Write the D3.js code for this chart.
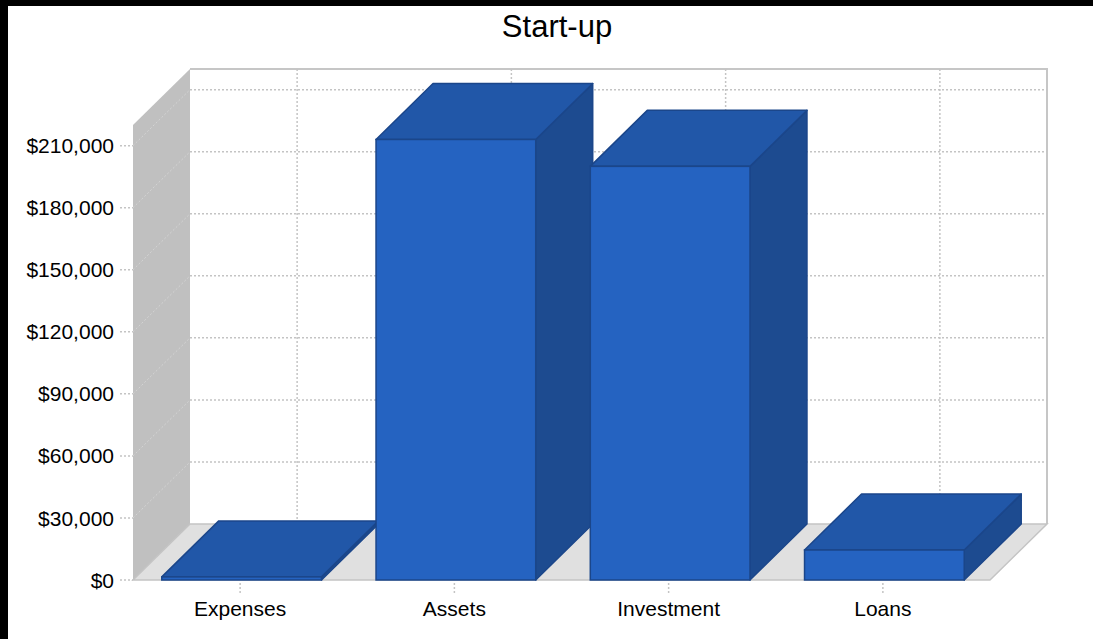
<!DOCTYPE html>
<html>
<head>
<meta charset="utf-8">
<script src="https://cdn.jsdelivr.net/npm/d3@7"></script>
<style>
  html, body { margin: 0; padding: 0; background: #fff; }
  svg { display: block; font-family: "Liberation Sans", Arial, sans-serif; }
</style>
</head>
<body>
<svg id="chart" width="1093" height="639"></svg>
<script>
// chart data
const categories = ["Expenses", "Assets", "Investment", "Loans"];
const values = [1500, 213000, 200000, 14500];
const tickValues = [0, 30000, 60000, 90000, 120000, 150000, 180000, 210000];
const yMax = 220000;

var svg = d3.select("#chart");
var W = 1093, H = 639;

// 3d depth offset
var dx = 57, dy = -56;

// front plane of the plot
var plotLeft = 133, plotRight = 990, plotBottom = 580, plotTop = 125;

var x = d3.scaleBand()
    .domain(categories)
    .range([plotLeft, plotRight])
    .paddingInner(0.25)
    .paddingOuter(0.125);

var y = d3.scaleLinear()
    .domain([0, yMax])
    .range([plotBottom, plotTop]);

// white page with black frame on top/left
svg.append("rect").attr("width", W).attr("height", H).attr("fill", "#fff");
svg.append("rect").attr("x", 0).attr("y", 0).attr("width", W).attr("height", 6).attr("fill", "#000");
svg.append("rect").attr("x", 0).attr("y", 0).attr("width", 8).attr("height", H).attr("fill", "#000");

// title
svg.append("text")
    .attr("x", 557).attr("y", 37)
    .attr("text-anchor", "middle")
    .style("font-size", "31px")
    .attr("fill", "#000")
    .text("Start-up");

function poly(pts) { return "M" + pts.map(function (p) { return p.join(","); }).join("L") + "Z"; }

var L = plotLeft, R = plotRight;

// back wall
svg.append("path")
    .attr("d", poly([[L + dx, y(0) + dy], [L + dx, y(yMax) + dy], [R + dx, y(yMax) + dy], [R + dx, y(0) + dy]]))
    .attr("fill", "#fff");
svg.append("path")
    .attr("d", "M" + (L + dx) + "," + (y(yMax) + dy) + "L" + (R + dx) + "," + (y(yMax) + dy) + "L" + (R + dx) + "," + (y(0) + dy))
    .attr("fill", "none")
    .attr("stroke", "#c6c6c6")
    .attr("stroke-width", 2);

// left wall
svg.append("path")
    .attr("d", poly([[L, y(0)], [L + dx, y(0) + dy], [L + dx, y(yMax) + dy], [L, y(yMax)]]))
    .attr("fill", "#c0c0c0");

// floor
svg.append("path")
    .attr("d", poly([[L, y(0)], [R, y(0)], [R + dx, y(0) + dy], [L + dx, y(0) + dy]]))
    .attr("fill", "#e0e0e0")
    .attr("stroke", "#c4c4c4")
    .attr("stroke-width", 1.5);

// horizontal grid on back wall + diagonal lines on left wall
var grid = svg.append("g");
tickValues.filter(function (v) { return v > 0; }).forEach(function (v) {
    grid.append("line")
        .attr("x1", L + dx).attr("x2", R + dx)
        .attr("y1", y(v) + dy).attr("y2", y(v) + dy)
        .attr("stroke", "#c4c4c4").attr("stroke-width", 1.5)
        .attr("stroke-dasharray", "2,2");
    grid.append("line")
        .attr("x1", L).attr("x2", L + dx)
        .attr("y1", y(v)).attr("y2", y(v) + dy)
        .attr("stroke", "#d4d4d4").attr("stroke-width", 1)
        .attr("stroke-dasharray", "2,2");
});

// vertical grid on back wall
categories.forEach(function (c) {
    var cx = x(c) + x.bandwidth() / 2;
    grid.append("line")
        .attr("x1", cx + dx).attr("x2", cx + dx)
        .attr("y1", y(yMax) + dy).attr("y2", y(0) + dy)
        .attr("stroke", "#c4c4c4").attr("stroke-width", 1.5)
        .attr("stroke-dasharray", "2,2");
    // tick under the floor
    grid.append("line")
        .attr("x1", cx).attr("x2", cx)
        .attr("y1", y(0) + 3).attr("y2", y(0) + 13)
        .attr("stroke", "#c4c4c4").attr("stroke-width", 1.5)
        .attr("stroke-dasharray", "2,2");
});

// y axis labels and little ticks
var fmt = d3.format("$,");
var yAxis = svg.append("g");
tickValues.forEach(function (v) {
    yAxis.append("line")
        .attr("x1", L - 13).attr("x2", L)
        .attr("y1", y(v)).attr("y2", y(v))
        .attr("stroke", "#c4c4c4").attr("stroke-width", 1.5)
        .attr("stroke-dasharray", "2,2");
    yAxis.append("text")
        .attr("x", L - 19).attr("y", y(v))
        .attr("dy", "0.36em")
        .attr("text-anchor", "end")
        .style("font-size", "21px")
        .attr("fill", "#000")
        .text(fmt(v));
});

// category labels
categories.forEach(function (c) {
    svg.append("text")
        .attr("x", x(c) + x.bandwidth() / 2).attr("y", 616)
        .attr("text-anchor", "middle")
        .style("font-size", "21px")
        .attr("fill", "#000")
        .text(c);
});

// 3d bars
var bars = svg.append("g");
var edge = "#1b468a";
categories.forEach(function (c, i) {
    var x0 = x(c) + 2, x1 = x0 + x.bandwidth() - 1;
    var y0 = y(0), y1 = y(values[i]);
    var g = bars.append("g");
    // side
    g.append("path")
        .attr("d", poly([[x1, y0], [x1 + dx, y0 + dy], [x1 + dx, y1 + dy], [x1, y1]]))
        .attr("fill", "#1d4b90").attr("stroke", edge).attr("stroke-width", 1.5).attr("stroke-linejoin", "round");
    // top
    g.append("path")
        .attr("d", poly([[x0, y1], [x1, y1], [x1 + dx, y1 + dy], [x0 + dx, y1 + dy]]))
        .attr("fill", "#2157a8").attr("stroke", edge).attr("stroke-width", 1.5).attr("stroke-linejoin", "round");
    // front
    g.append("rect")
        .attr("x", x0).attr("y", y1)
        .attr("width", x1 - x0).attr("height", y0 - y1)
        .attr("fill", "#2563c1").attr("stroke", edge).attr("stroke-width", 1.5);
});
</script>
</body>
</html>
